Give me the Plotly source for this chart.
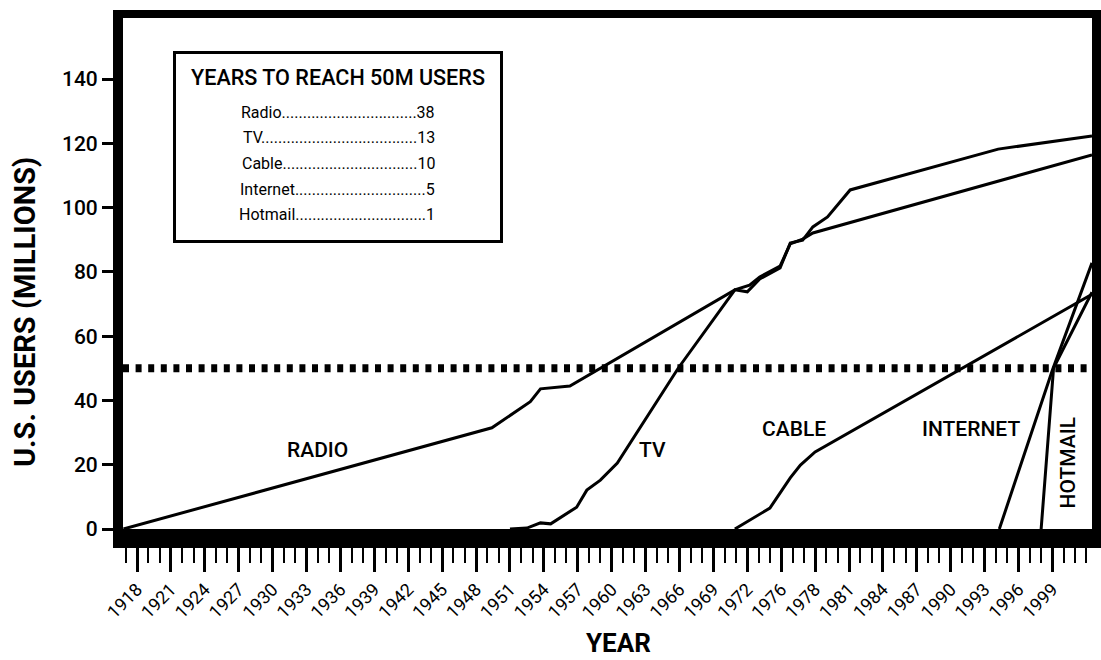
import plotly.graph_objects as go

# ---------------- data ----------------
radio_years = [1916.8, 1949.4, 1952.8, 1953.7, 1956.3, 1970.9, 1972.2, 1973.1, 1974.9, 1975.8, 1976.9, 1977.8, 2002.5]
radio_users = [0.0, 31.5, 39.6, 43.6, 44.5, 74.4, 75.9, 78.4, 81.8, 88.7, 90.2, 92.1, 116.4]

tv_years = [1951.0, 1952.5, 1953.7, 1954.6, 1956.9, 1957.8, 1959.0, 1960.5, 1965.9, 1970.9, 1972.0, 1973.1, 1974.9, 1975.8, 1976.9, 1977.8, 1979.1, 1981.1, 1994.2, 2002.5]
tv_users = [0.0, 0.3, 1.9, 1.6, 6.8, 12.1, 15.2, 20.5, 50.1, 74.4, 73.8, 77.8, 81.2, 89.0, 89.9, 94.0, 97.1, 105.5, 118.2, 122.3]

cable_years = [1970.9, 1974.0, 1975.8, 1976.7, 1978.0, 2002.5]
cable_users = [0.0, 6.5, 15.9, 19.9, 24.0, 73.0]

internet_years = [1994.3, 1999.0, 2002.5]
internet_users = [0.0, 49.5, 82.8]

hotmail_years = [1998.0, 1999.1, 2002.5]
hotmail_users = [0.0, 50.1, 73.7]

threshold = 50

curve_labels = ["RADIO", "TV", "CABLE", "INTERNET", "HOTMAIL"]
label_years = [1934.0, 1963.6, 1976.1, 1991.8, 2000.4]
label_users = [24.6, 24.6, 31.1, 31.1, 20.5]

legend_title = "YEARS TO REACH 50M USERS"
legend_names = ["Radio", "TV", "Cable", "Internet", "Hotmail"]
legend_years = [38, 13, 10, 5, 1]

tick_labels = ["1918", "1921", "1924", "1927", "1930", "1933", "1936", "1939", "1942",
               "1945", "1948", "1951", "1954", "1957", "1960", "1963", "1966", "1969",
               "1972", "1976", "1978", "1981", "1984", "1987", "1990", "1993", "1996", "1999"]
y_ticks = [0, 20, 40, 60, 80, 100, 120, 140]

# ---------------- layout helpers ----------------
W, H = 1101, 660
L, R, T, B = 123, 9, 18, 131
PW, PH = W - L - R, H - T - B
X_RANGE = [1916.76, 2002.5]
Y_RANGE = [0, 159]

def px_x(p):   # page px -> paper
    return (p - L) / PW

def px_y(p):
    return (H - B - p) / PH

FONT = "Roboto, 'Liberation Sans', sans-serif"

# approximate Roboto advance widths (em) for the legend leader dots
CHAR_EM = {"R": .631, "a": .544, "d": .563, "i": .243, "o": .57, "T": .611, "V": .636,
           "C": .652, "b": .561, "l": .243, "e": .529, "I": .275, "n": .552, "t": .327,
           "r": .338, "H": .713, "m": .876, ".": .263}
DIGIT_EM = .562

def text_w(s, size):
    return sum(DIGIT_EM if c.isdigit() else CHAR_EM.get(c, .56) for c in s) * size

fig = go.Figure()
for xs, ys in [(radio_years, radio_users), (tv_years, tv_users), (cable_years, cable_users),
               (internet_years, internet_users), (hotmail_years, hotmail_users)]:
    fig.add_trace(go.Scatter(x=xs, y=ys, mode="lines",
                             line=dict(color="black", width=3),
                             showlegend=False, hoverinfo="skip"))

fig.add_hline(y=threshold, line=dict(color="black", width=8, dash="6px,6.6px"))

tick_vals = [1918 + 3 * i for i in range(len(tick_labels))]

fig.update_layout(
    width=W, height=H,
    margin=dict(l=L, r=R, t=T, b=B, autoexpand=False),
    plot_bgcolor="white", paper_bgcolor="white",
    showlegend=False,
    xaxis=dict(range=X_RANGE, automargin=False, showline=True, linecolor="black", linewidth=19,
               showgrid=False, zeroline=False,
               tickmode="array", tickvals=tick_vals, ticktext=tick_labels,
               ticks="outside", ticklen=24, tickwidth=3, tickcolor="black",
               tickangle=-45, tickfont=dict(family=FONT, size=18, color="black"),
               minor=dict(tick0=1916, dtick=1, ticks="outside", ticklen=15,
                          tickwidth=2, tickcolor="black", showgrid=False)),
    yaxis=dict(range=Y_RANGE, automargin=False, showline=True, mirror=True,
               linecolor="black", linewidth=10,
               showgrid=False, zeroline=False,
               tickmode="array", tickvals=y_ticks,
               ticks="outside", ticklen=11, tickwidth=3, tickcolor="black",
               tickfont=dict(family=FONT, size=21, color="black", weight=500)),
)

annotations = []
for txt, xv, yv in zip(curve_labels, label_years, label_users):
    annotations.append(dict(x=xv, y=yv, xref="x", yref="y", text=txt, showarrow=False,
                            xanchor="center", yanchor="middle",
                            textangle=-90 if txt == "HOTMAIL" else 0,
                            font=dict(family=FONT, size=21, color="black", weight=500)))

# axis titles
annotations.append(dict(x=px_x(618), y=px_y(643), xref="paper", yref="paper", text="YEAR",
                        xanchor="center", yanchor="middle", showarrow=False,
                        font=dict(family=FONT, size=26, color="black", weight="bold")))
annotations.append(dict(x=px_x(25), y=px_y(312), xref="paper", yref="paper",
                        text="U.S. USERS (MILLIONS)", textangle=-90,
                        xanchor="center", yanchor="middle", showarrow=False,
                        font=dict(family=FONT, size=29, color="black", weight="bold")))

# legend box contents
annotations.append(dict(x=px_x(338), y=px_y(77), xref="paper", yref="paper", text=legend_title,
                        xanchor="center", yanchor="middle", showarrow=False,
                        font=dict(family=FONT, size=21.6, color="black", weight=500)))
row_y = [112, 137, 163, 189, 214]
ROW_LEFT, ROW_RIGHT, ROW_SIZE = 242, 436, 16
for name, yrs, ry in zip(legend_names, legend_years, row_y):
    free = ROW_RIGHT - ROW_LEFT - text_w(name, ROW_SIZE) - text_w(str(yrs), ROW_SIZE)
    n_dots = max(3, round(free / (CHAR_EM["."] * ROW_SIZE)))
    annotations.append(dict(x=px_x(ROW_RIGHT), y=px_y(ry), xref="paper", yref="paper",
                            text=name + "." * n_dots + str(yrs), xanchor="right",
                            yanchor="middle", showarrow=False, borderpad=0,
                            font=dict(family=FONT, size=ROW_SIZE, color="black")))
fig.update_layout(annotations=annotations)

# legend frame and top border of the chart frame
fig.add_shape(type="rect", xref="paper", yref="paper",
              x0=px_x(174.5), x1=px_x(501.5), y0=px_y(241.5), y1=px_y(52.5),
              line=dict(color="black", width=3), fillcolor="rgba(0,0,0,0)")
fig.add_shape(type="line", xref="paper", yref="paper",
              x0=-10 / PW, x1=1 + 10 / PW, y0=1 + 4 / PH, y1=1 + 4 / PH,
              line=dict(color="black", width=8))

fig.write_html("out.html", config={"displayModeBar": False},
               post_script="document.body.style.margin='0';document.body.style.overflow='hidden';")
